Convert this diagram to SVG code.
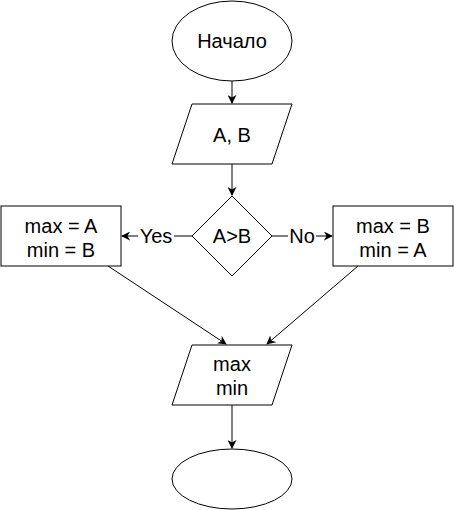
<svg xmlns="http://www.w3.org/2000/svg" width="454" height="510" viewBox="0 0 454 510">
<style>
.s{fill:#fff;stroke:#000;stroke-width:1}
.t{font-family:"Liberation Sans",Arial,sans-serif;font-size:20px;fill:#000;text-anchor:middle}
.c{fill:none;stroke:#000;stroke-width:1}
</style>
<defs>
<marker id="a" viewBox="0 0 10 10" refX="9" refY="5" markerWidth="9" markerHeight="9" orient="auto" markerUnits="userSpaceOnUse">
<path d="M0,0 L10,5 L0,10 L3,5 Z" fill="#000"/>
</marker>
</defs>
<rect width="454" height="510" fill="#fff"/>
<g id="connectors">
<line class="c" x1="232" y1="81" x2="232" y2="103" marker-end="url(#a)"/>
<line class="c" x1="232" y1="164" x2="232" y2="195" marker-end="url(#a)"/>
<line class="c" x1="192" y1="236" x2="122" y2="236" marker-end="url(#a)"/>
<line class="c" x1="272" y1="236" x2="332" y2="236" marker-end="url(#a)"/>
<line class="c" x1="108" y1="266" x2="226" y2="344" marker-end="url(#a)"/>
<line class="c" x1="358" y1="266" x2="267" y2="344" marker-end="url(#a)"/>
<line class="c" x1="232" y1="405" x2="232" y2="448" marker-end="url(#a)"/>
<rect x="138" y="225" width="36" height="22" fill="#fff"/>
<text class="t" x="156" y="243">Yes</text>
<rect x="288" y="225" width="28" height="22" fill="#fff"/>
<text class="t" x="302" y="243">No</text>
</g>
<g id="start">
<ellipse class="s" cx="232" cy="41" rx="60" ry="40"/>
<text class="t" x="232" y="48">Начало</text>
</g>
<g id="input">
<polygon class="s" points="192,104 292,104 272,164 172,164"/>
<text class="t" x="232" y="142">A, B</text>
</g>
<g id="decision">
<polygon class="s" points="232,196 272,236 232,276 192,236"/>
<text class="t" x="232" y="243">A&gt;B</text>
</g>
<g id="yesbox">
<rect class="s" x="1" y="206" width="120" height="60"/>
<text class="t" x="61" y="233">max = A</text>
<text class="t" x="61" y="257">min = B</text>
</g>
<g id="nobox">
<rect class="s" x="333" y="206" width="120" height="60"/>
<text class="t" x="393" y="233">max = B</text>
<text class="t" x="393" y="257">min = A</text>
</g>
<g id="output">
<polygon class="s" points="192,345 292,345 272,405 172,405"/>
<text class="t" x="232" y="371">max</text>
<text class="t" x="232" y="395">min</text>
</g>
<g id="end">
<ellipse class="s" cx="232" cy="479" rx="60" ry="30"/>
</g>
</svg>
